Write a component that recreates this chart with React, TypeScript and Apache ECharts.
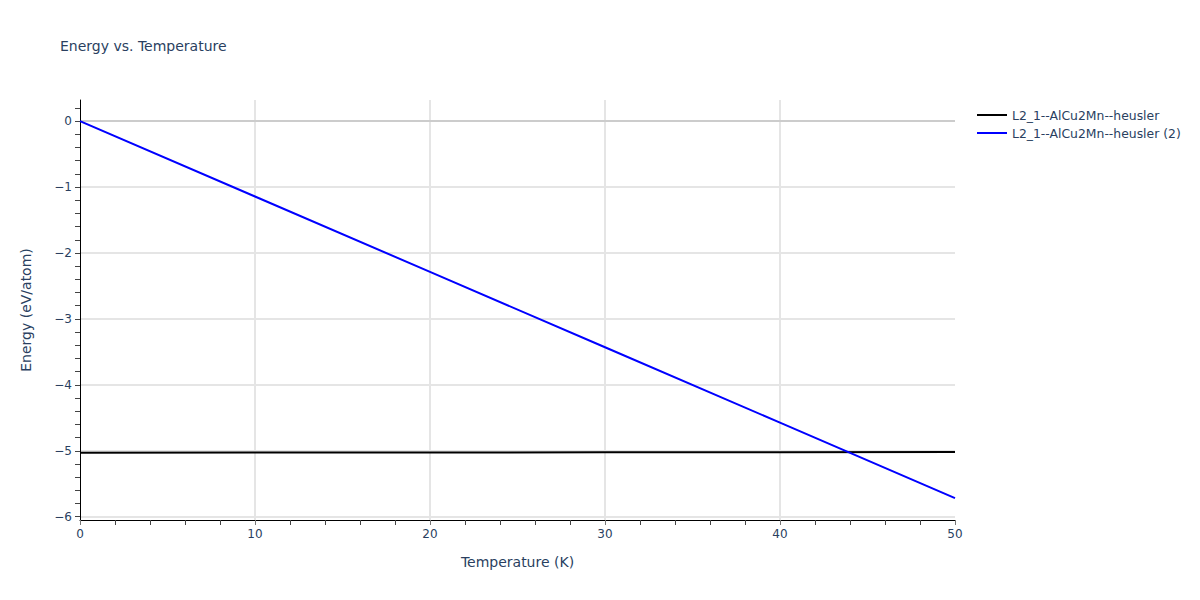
import { useEffect, useRef } from "react";
import * as echarts from "echarts";

const temperatures = [0, 10, 20, 30, 40, 50];
const energySeries1 = [-5.03, -5.028, -5.026, -5.024, -5.022, -5.02];
const energySeries2 = [0, -1.143, -2.287, -3.43, -4.574, -5.717];
const yLabelValues = [-6, -5, -4, -3, -2, -1, 0];
const yTickValues = [
  -6, -5.8, -5.6, -5.4, -5.2, -5, -4.8, -4.6, -4.4, -4.2, -4, -3.8, -3.6, -3.4, -3.2, -3,
  -2.8, -2.6, -2.4, -2.2, -2, -1.8, -1.6, -1.4, -1.2, -1, -0.8, -0.6, -0.4, -0.2, 0, 0.2,
];
const xGridValues = [10, 20, 30, 40];
const seriesNames = ["L2_1--AlCu2Mn--heusler", "L2_1--AlCu2Mn--heusler (2)"];

const FONT = "'DejaVu Sans', Verdana, sans-serif";
const TEXT = "#2a3f5f";

export default function App() {
  const chartRef = useRef<HTMLDivElement | null>(null);

  useEffect(() => {
    if (!chartRef.current) return;
    const chart = echarts.init(chartRef.current, undefined, { renderer: "svg" });
    chart.setOption({
      animation: false,
      textStyle: { fontFamily: FONT },
      title: {
        text: "Energy vs. Temperature",
        left: 55,
        top: 34,
        textStyle: { fontFamily: FONT, fontSize: 14, fontWeight: "normal", color: TEXT },
      },
      legend: {
        orient: "vertical",
        left: 972,
        top: 104,
        itemWidth: 30,
        itemHeight: 14,
        itemGap: 6,
        icon: "path://M0,6 L30,6 L30,8 L0,8 Z",
        textStyle: { fontFamily: FONT, fontSize: 12.4, color: TEXT },
        data: seriesNames,
      },
      grid: { left: 80, right: 245, top: 100, bottom: 80, containLabel: false },
      xAxis: {
        type: "value",
        min: 0,
        max: 50,
        interval: 10,
        name: "Temperature (K)",
        nameLocation: "middle",
        nameGap: 35,
        nameTextStyle: { fontFamily: FONT, fontSize: 14, color: TEXT },
        axisLine: { show: true, onZero: false, lineStyle: { color: "#000", width: 1 } },
        axisTick: { show: true, length: 5, lineStyle: { color: "#777" } },
        minorTick: { show: true, splitNumber: 5, length: 5, lineStyle: { color: "#444" } },
        axisLabel: { margin: 8, fontFamily: FONT, fontSize: 12, color: TEXT },
        splitLine: { show: false },
      },
      yAxis: {
        type: "value",
        min: -6.05,
        max: 0.32,
        name: "Energy (eV/atom)",
        nameLocation: "middle",
        nameGap: 47,
        nameTextStyle: { fontFamily: FONT, fontSize: 14, color: TEXT },
        axisLine: { show: true, onZero: false, lineStyle: { color: "#000", width: 1 } },
        axisTick: { show: true, length: 5, customValues: yTickValues, lineStyle: { color: "#444" } },
        axisLabel: {
          margin: 8,
          customValues: yLabelValues,
          fontFamily: FONT,
          fontSize: 12,
          color: TEXT,
          formatter: (v: number) => String(v).replace("-", "\u2212"),
        },
        splitLine: { show: false },
      },
      series: [
        {
          name: "grid",
          type: "line",
          data: [],
          z: 0,
          silent: true,
          markLine: {
            silent: true,
            symbol: "none",
            label: { show: false },
            animation: false,
            z: 0,
            lineStyle: { color: "#e5e5e5", width: 2, type: "solid" },
            data: [
              ...yLabelValues.filter((v) => v !== 0).map((v) => ({ yAxis: v })),
              ...xGridValues.map((v) => ({ xAxis: v })),
              { yAxis: 0, lineStyle: { color: "#cccccc", width: 2 } },
            ],
          },
        },
        {
          name: seriesNames[0],
          type: "line",
          symbol: "none",
          data: temperatures.map((t, i) => [t, energySeries1[i]]),
          lineStyle: { color: "#000", width: 2 },
          itemStyle: { color: "#000" },
          z: 3,
        },
        {
          name: seriesNames[1],
          type: "line",
          symbol: "none",
          data: temperatures.map((t, i) => [t, energySeries2[i]]),
          lineStyle: { color: "#0000ff", width: 2 },
          itemStyle: { color: "#0000ff" },
          z: 4,
        },
      ],
    });
    const onResize = () => chart.resize();
    window.addEventListener("resize", onResize);
    return () => {
      window.removeEventListener("resize", onResize);
      chart.dispose();
    };
  }, []);

  return <div ref={chartRef} style={{ width: 1200, height: 600, margin: -8 }} />;
}
